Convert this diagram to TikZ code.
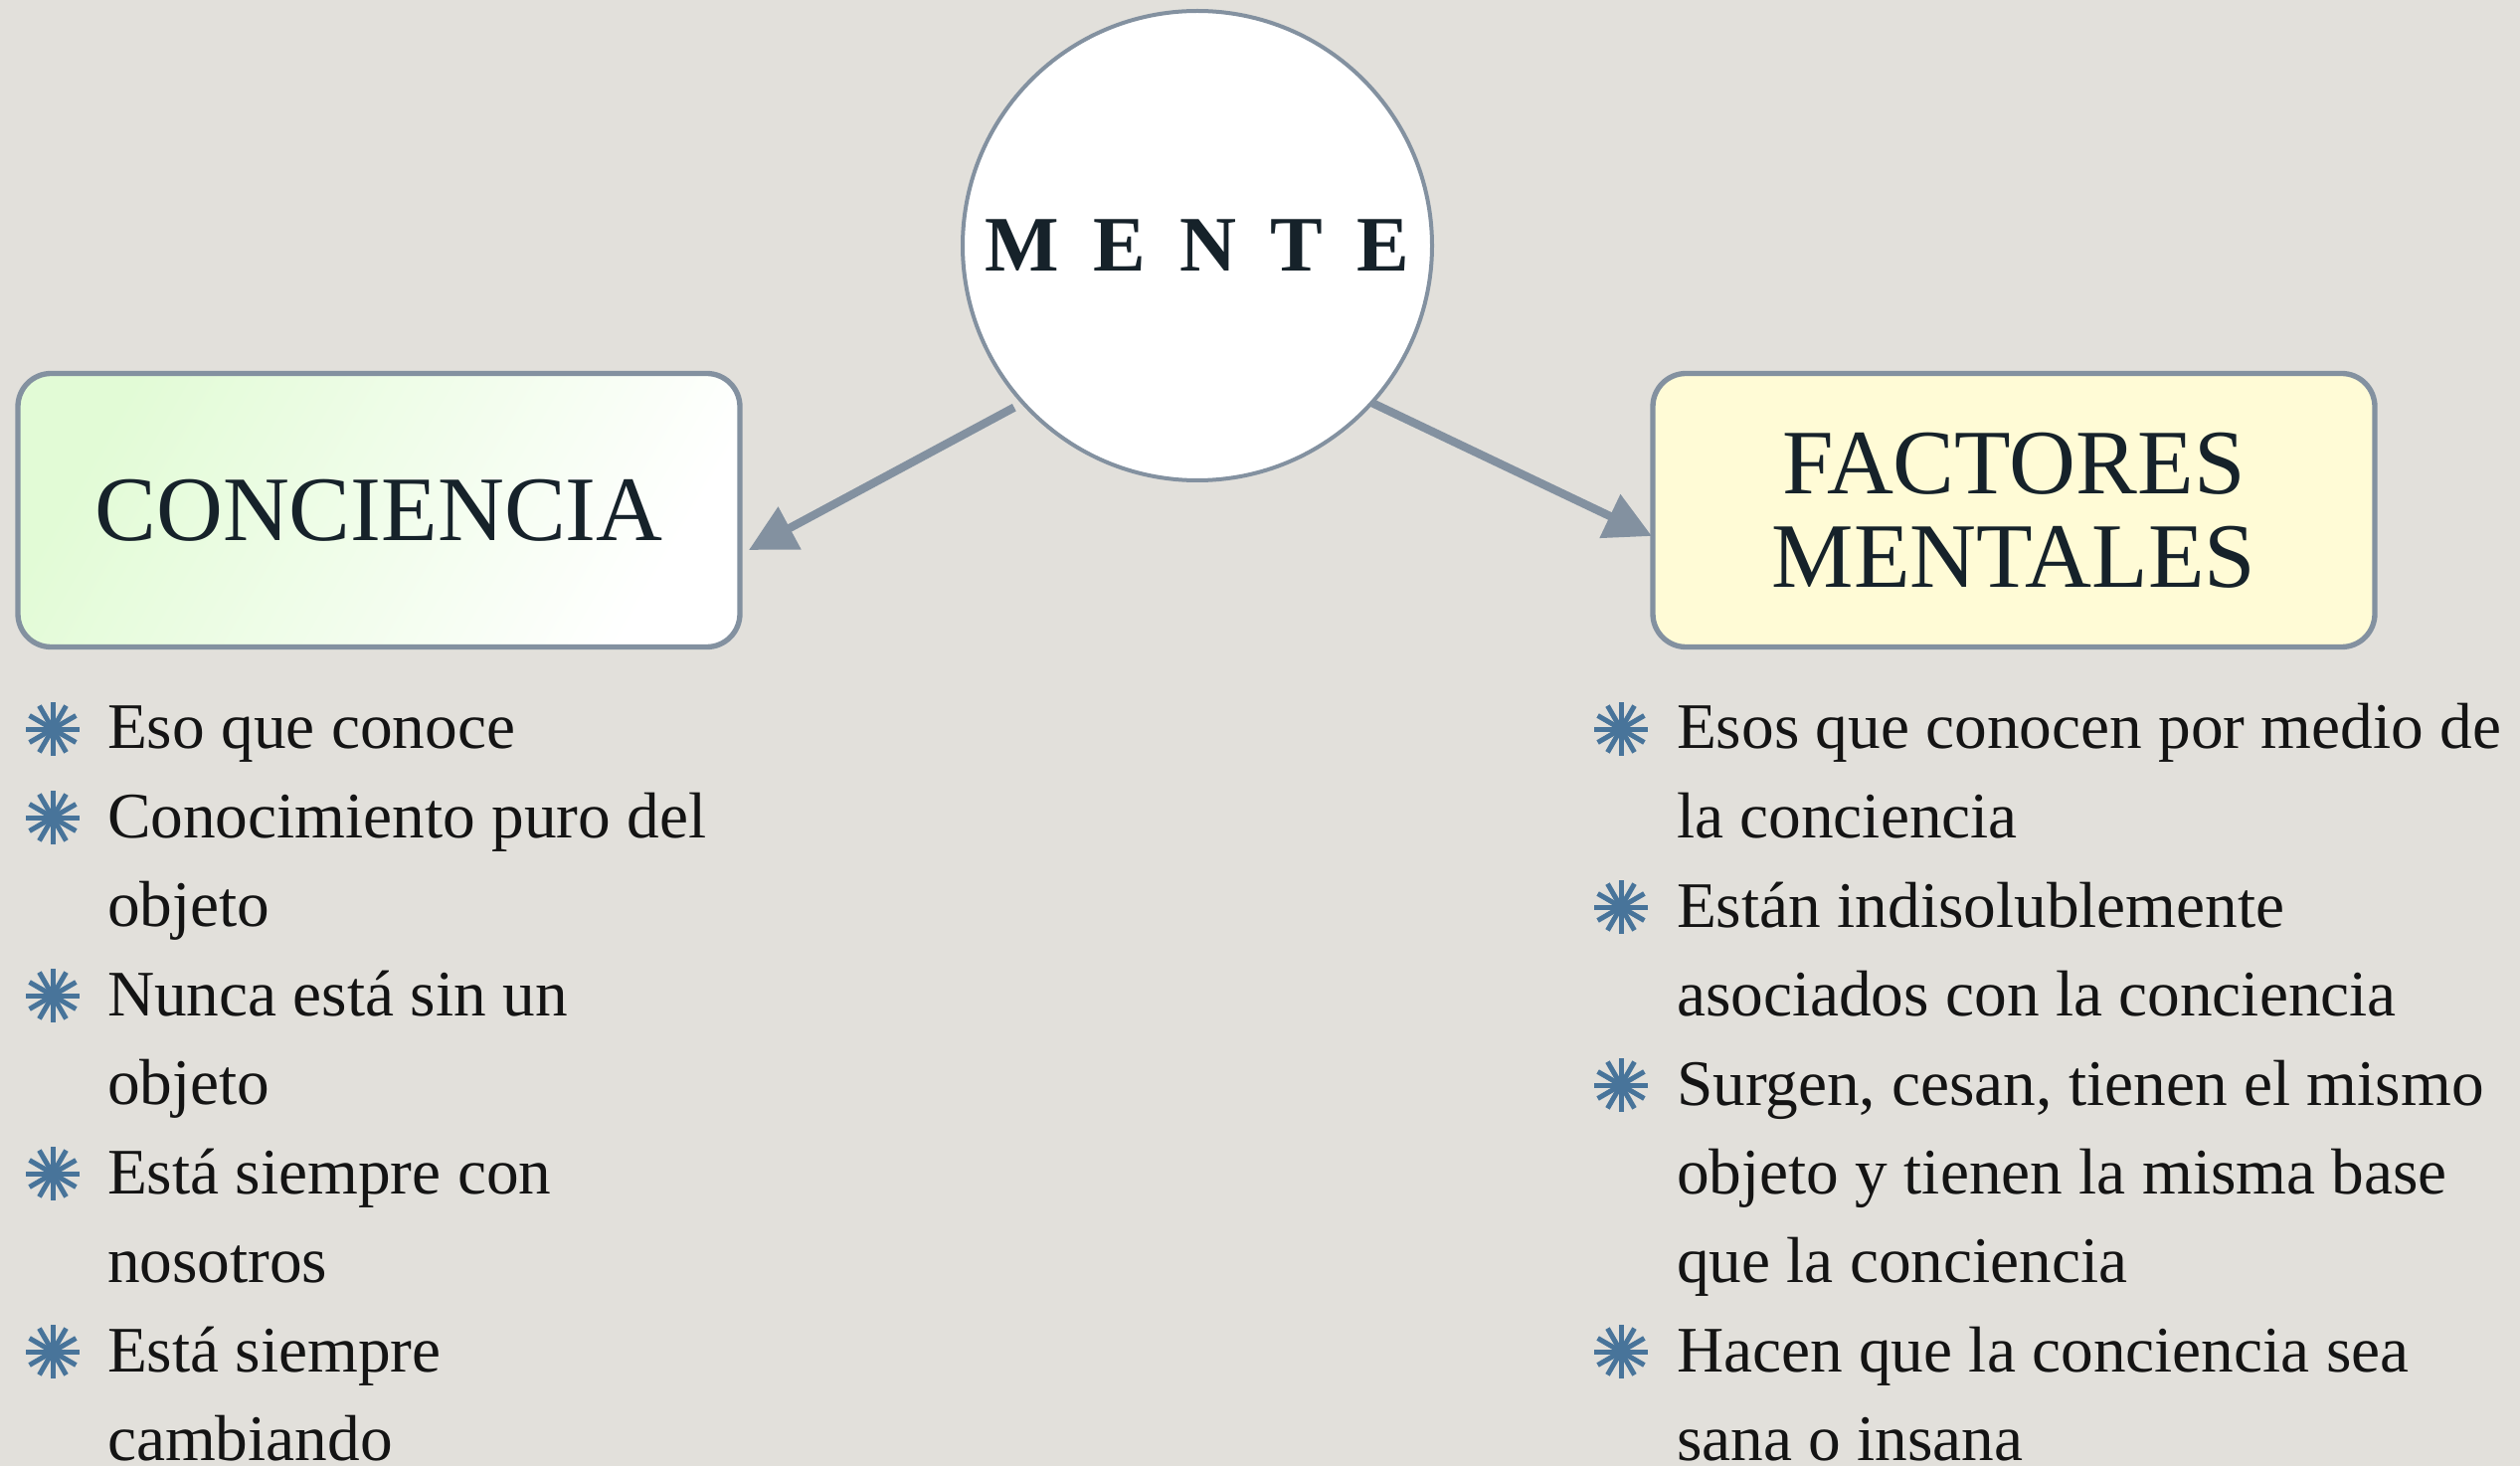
\documentclass[tikz,border=0pt]{standalone}
\usepackage{fontspec}
\setmainfont{Liberation Serif}
\usetikzlibrary{arrows.meta,calc}
\definecolor{paper}{RGB}{226,224,219}
\definecolor{edgeclr}{RGB}{131,145,160}
\definecolor{ink}{RGB}{22,34,42}
\definecolor{bulletblue}{RGB}{72,116,154}
\definecolor{ltgreen}{RGB}{226,251,214}
\definecolor{ltyellow}{RGB}{255,251,214}
\begin{document}
\begin{tikzpicture}[x=0.3pt,y=-0.3pt,
  headbox/.style={draw=edgeclr, line width=1.6pt, rounded corners=10pt,
    minimum width=217.8pt, minimum height=82.5pt, outer sep=0pt, inner sep=0pt,
    align=center, text=ink, font=\fontsize{27.8}{28.2}\selectfont},
  hub/.style={circle, draw=edgeclr, line width=1.2pt, fill=white,
    minimum size=141.6pt, inner sep=0pt, outer sep=0pt, text=ink,
    font=\fontsize{23.7}{26}\selectfont\bfseries},
  listitem/.style={anchor=base west, inner sep=0pt, outer sep=0pt,
    text=black!92, font=\fontsize{19.6}{26.8}\selectfont},
  conn/.style={draw=edgeclr, line width=2.5pt, -{Triangle[length=14pt,width=14pt]}},
  sunbullet/.pic={
    \foreach \a in {0,30,...,330}
      \draw[bulletblue, line width=1.5pt] (0,0) -- (\a:27);
    \fill[bulletblue] (0,0) circle (7);
  }]
\fill[paper] (0,0) rectangle (2534,1474);
\useasboundingbox (0,0) rectangle (2534,1474);

% header boxes
\node[headbox, left color=ltgreen, right color=white, shading angle=60] (conc) at (381,513) {CONCIENCIA};
\node[headbox, fill=ltyellow] (fact) at (2025,513) {FACTORES\\MENTALES};

% hub
\node[hub] (mente) at (1204,247) {M\hspace{10.3pt}E\hspace{10.3pt}N\hspace{10.3pt}T\hspace{10.3pt}E};

% connectors
\coordinate (lt) at ($(conc.east)+(9,40)$);
\coordinate (rt) at ($(fact.west)+(-1,26)$);
\draw[conn, shorten <=3pt] (mente.222.5) -- (lt);
\draw[conn] (mente.318) -- (rt);

% left list
\pic at (53,733) {sunbullet};
\node[listitem] (l1) at (108,753) {\parbox[t]{300pt}{Eso que conoce}};
\pic at (53,822) {sunbullet};
\node[listitem] (l2) at (108,842) {\parbox[t]{300pt}{Conocimiento puro del\\objeto}};
\pic at (53,1001) {sunbullet};
\node[listitem] (l3) at (108,1021) {\parbox[t]{300pt}{Nunca está sin un\\objeto}};
\pic at (53,1180) {sunbullet};
\node[listitem] (l4) at (108,1200) {\parbox[t]{300pt}{Está siempre con\\nosotros}};
\pic at (53,1359) {sunbullet};
\node[listitem] (l5) at (108,1379) {\parbox[t]{300pt}{Está siempre\\cambiando}};

% right list
\pic at (1630,733) {sunbullet};
\node[listitem] (r1) at (1686,753) {\parbox[t]{300pt}{Esos que conocen por medio de\\la conciencia}};
\pic at (1630,912) {sunbullet};
\node[listitem] (r2) at (1686,932) {\parbox[t]{300pt}{Están indisolublemente\\asociados con la conciencia}};
\pic at (1630,1091) {sunbullet};
\node[listitem] (r3) at (1686,1111) {\parbox[t]{300pt}{Surgen, cesan, tienen el mismo\\objeto y tienen la misma base\\que la conciencia}};
\pic at (1630,1359) {sunbullet};
\node[listitem] (r4) at (1686,1379) {\parbox[t]{300pt}{Hacen que la conciencia sea\\sana o insana}};
\end{tikzpicture}
\end{document}
